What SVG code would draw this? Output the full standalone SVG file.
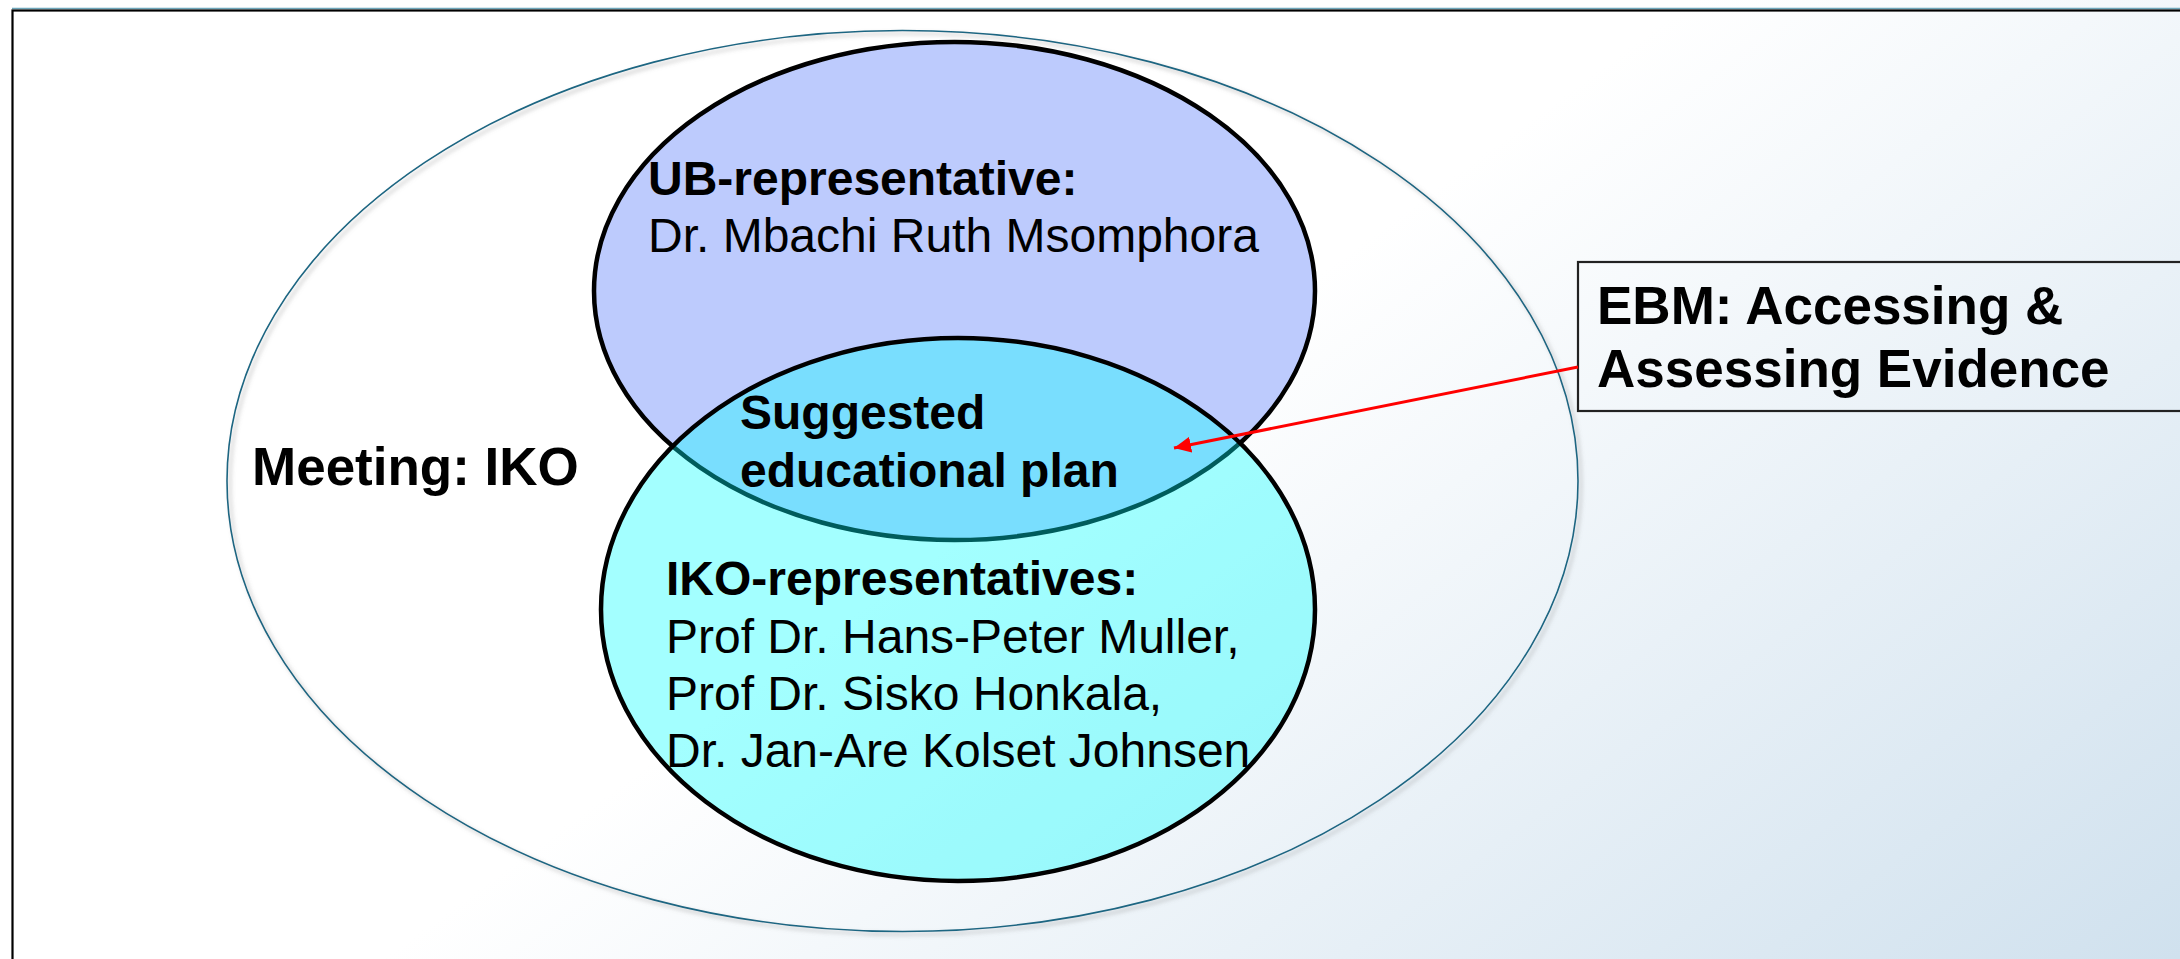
<svg xmlns="http://www.w3.org/2000/svg" width="2180" height="959" viewBox="0 0 2180 959">
  <style>
    .t { font-family: "Liberation Sans", Arial, sans-serif; fill: #000; }
    .b { font-weight: bold; }
    .s48 { font-size: 48px; }
    .s53 { font-size: 53px; }
  </style>
  <defs>
    <linearGradient id="bg" gradientUnits="userSpaceOnUse" x1="590" y1="807" x2="1215" y2="1662">
      <stop offset="0" stop-color="#ffffff"/>
      <stop offset="1" stop-color="#d0e1ee"/>
    </linearGradient>
    <filter id="soft" x="-5%" y="-5%" width="110%" height="110%">
      <feDropShadow dx="3" dy="3" stdDeviation="2" flood-color="#7a7a7a" flood-opacity="0.55"/>
    </filter>
    <marker id="arrow" markerUnits="userSpaceOnUse" markerWidth="20" markerHeight="16" refX="17" refY="8" orient="auto">
      <path d="M0,0 L17,8 L0,16 Z" fill="#ff0000"/>
    </marker>
  </defs>

  <!-- slide background and frame -->
  <rect x="0" y="0" width="2180" height="959" fill="url(#bg)"/>
  <line x1="12" y1="8.5" x2="2180" y2="8.5" stroke="#6ea7bb" stroke-width="1.5"/>
  <rect x="12.5" y="10.5" width="2300" height="1100" fill="none" stroke="#000" stroke-width="2.2"/>

  <!-- outer meeting ellipse -->
  <g id="meeting">
    <ellipse cx="902.5" cy="481" rx="675.5" ry="450.5" fill="none" stroke="#1b6682" stroke-width="1.6" filter="url(#soft)"/>
    <text class="t b s53" x="252" y="485">Meeting: IKO</text>
  </g>

  <!-- UB circle -->
  <g id="ub">
    <ellipse cx="954.5" cy="291" rx="360.5" ry="249" fill="#bdcbfd" stroke="#000" stroke-width="4.5"/>
    <text class="t b s48" x="648" y="195">UB-representative:</text>
    <text class="t s48" x="648" y="252">Dr. Mbachi Ruth Msomphora</text>
  </g>

  <!-- IKO circle, translucent over the UB circle -->
  <g id="iko">
    <ellipse cx="958" cy="609.5" rx="357" ry="271.5" fill="#00ffff" fill-opacity="0.36" stroke="#000" stroke-width="4.5"/>
    <text class="t b s48" x="666" y="595">IKO-representatives:</text>
    <text class="t s48" x="666" y="653">Prof Dr. Hans-Peter Muller,</text>
    <text class="t s48" x="666" y="710">Prof Dr. Sisko Honkala,</text>
    <text class="t s48" x="666" y="767">Dr. Jan-Are Kolset Johnsen</text>
  </g>

  <!-- overlap label -->
  <g id="plan">
    <text class="t b s48" x="740" y="429">Suggested</text>
    <text class="t b s48" x="740" y="487">educational plan</text>
  </g>

  <!-- EBM callout -->
  <g id="ebm">
    <rect x="1578" y="262" width="700" height="149" fill="none" stroke="#222" stroke-width="2.2"/>
    <text class="t b s53" x="1597" y="324">EBM: Accessing &amp;</text>
    <text class="t b s53" x="1597" y="387">Assessing Evidence</text>
  </g>

  <g id="connectors">
    <line x1="1578" y1="367" x2="1174" y2="448" stroke="#ff0000" stroke-width="3" marker-end="url(#arrow)"/>
  </g>
</svg>
